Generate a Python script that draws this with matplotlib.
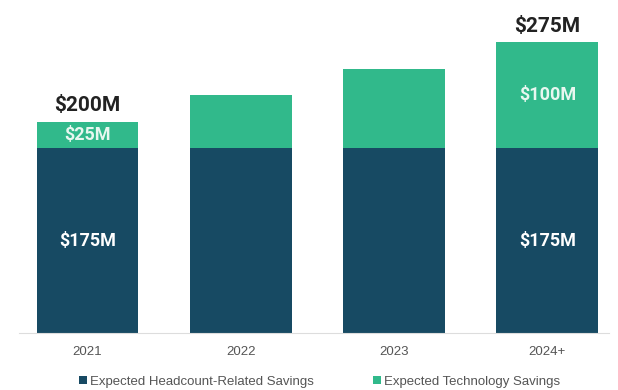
import matplotlib.pyplot as plt

plt.rcParams['font.family'] = ['Roboto', 'DejaVu Sans']

years = ['2021', '2022', '2023', '2024+']
headcount = [175, 175, 175, 175]
technology = [25, 50, 75, 100]
headcount_labels = ['$175M', '', '', '$175M']
technology_labels = ['$25M', '', '', '$100M']
total_labels = ['$200M', '', '', '$275M']

navy = '#174a63'
green = '#31b98b'

fig = plt.figure(figsize=(6.18, 3.90), dpi=100)
ax = fig.add_axes([0.03, 0.146, 0.955, 0.813])

x = range(len(years))
ax.bar(x, headcount, width=0.665, color=navy, label='Expected Headcount-Related Savings')
ax.bar(x, technology, width=0.665, bottom=headcount, color=green,
       label='Expected Technology Savings')

for i in x:
    if headcount_labels[i]:
        ax.text(i, headcount[i] / 2, headcount_labels[i], ha='center', va='center',
                color='white', fontsize=13, fontweight='bold')
    if technology_labels[i]:
        ax.text(i, headcount[i] + technology[i] / 2, technology_labels[i], ha='center',
                va='center', color='#e8f7f0', fontsize=13, fontweight='bold')
    if total_labels[i]:
        ax.text(i, headcount[i] + technology[i] + 6, total_labels[i], ha='center',
                va='bottom', color='#222222', fontsize=15, fontweight='bold')

ax.set_xlim(-0.45, 3.4)
ax.set_ylim(0, 300)
ax.set_xticks(list(x))
ax.set_xticklabels(years, color='#555555', fontsize=9.5, family='Liberation Sans')
ax.tick_params(axis='x', length=0, pad=9)
ax.set_yticks([])
for s in ['top', 'right', 'left']:
    ax.spines[s].set_visible(False)
ax.spines['bottom'].set_color('#dddddd')

fig.legend(loc='lower center', ncol=2, frameon=False,
           prop={'family': 'Liberation Sans', 'size': 9.5},
           bbox_to_anchor=(0.517, -0.025), handlelength=0.6, handleheight=0.6,
           handletextpad=0.2, columnspacing=4.5, labelcolor='#555555')

fig.savefig('out.png', dpi=100)
